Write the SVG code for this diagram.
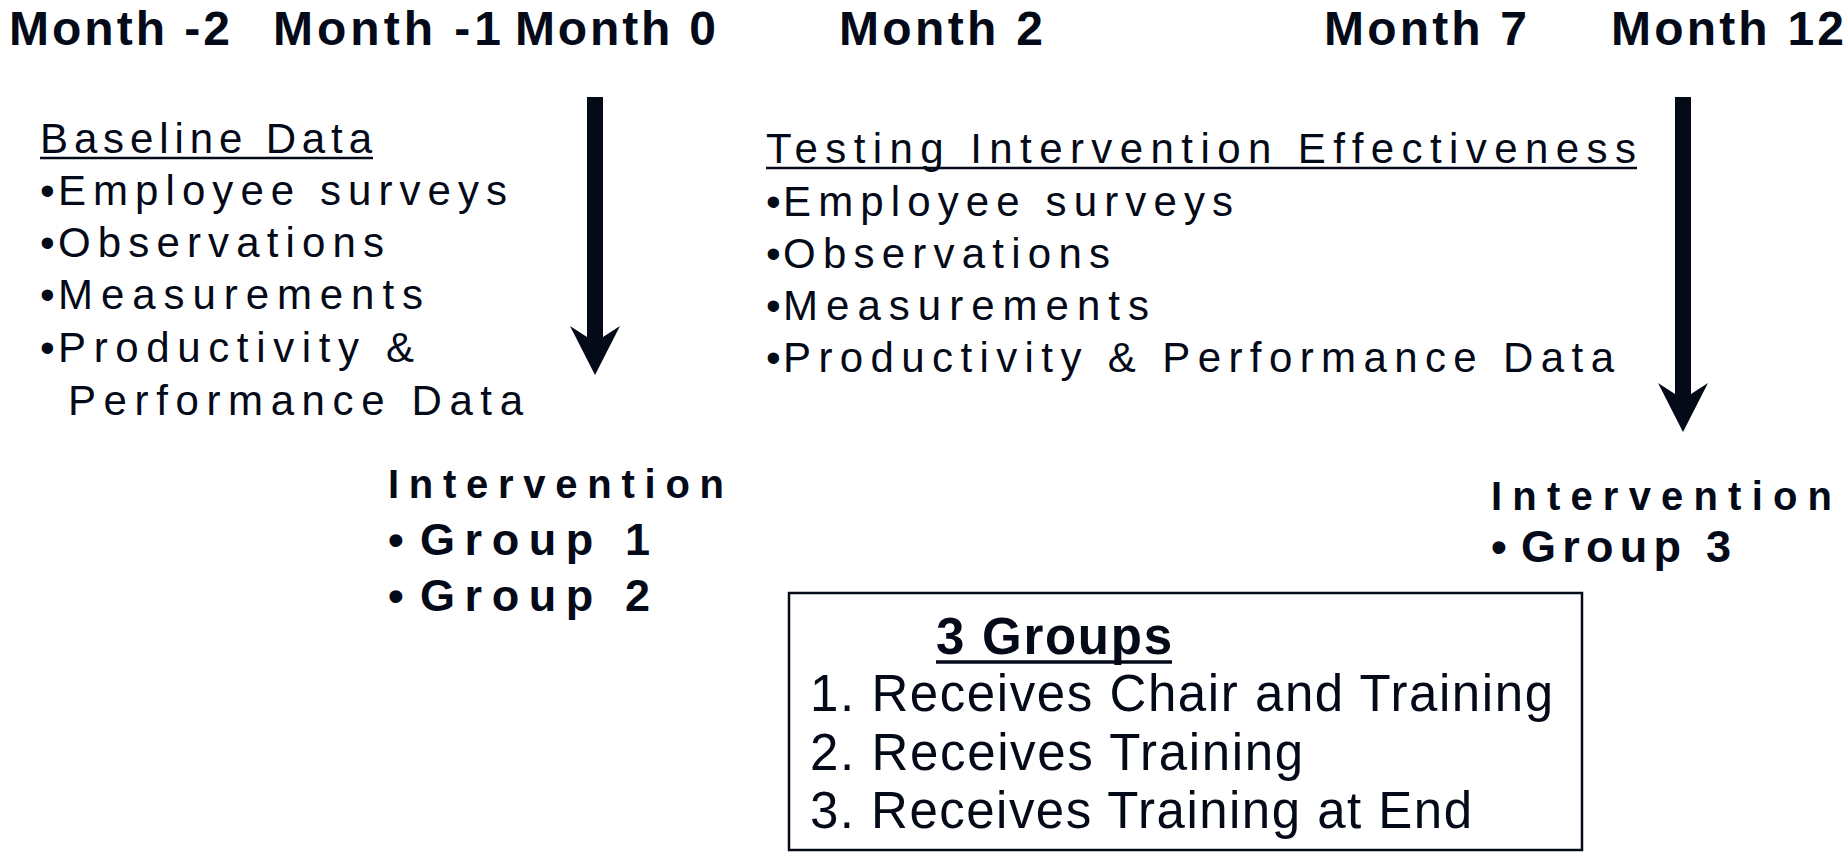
<svg xmlns="http://www.w3.org/2000/svg" width="1847" height="854" viewBox="0 0 1847 854">
<style>
text{fill:#050a18;font-family:"Liberation Sans",Arial,sans-serif}
.hd{font-size:48px;font-weight:bold}
.ls{font-size:42px}
.iv{font-size:40px;font-weight:bold}
.gp{font-size:45px;font-weight:bold}
.bx{font-size:51px}
.ul{stroke:#050a18;stroke-width:2.5}
</style>
<g id="headers">
<text class="hd" x="9" y="45" textLength="221" lengthAdjust="spacing">Month -2</text>
<text class="hd" x="273" y="45" textLength="228" lengthAdjust="spacing">Month -1</text>
<text class="hd" x="515" y="45" textLength="201" lengthAdjust="spacing">Month 0</text>
<text class="hd" x="839" y="45" textLength="204" lengthAdjust="spacing">Month 2</text>
<text class="hd" x="1324" y="45" textLength="203" lengthAdjust="spacing">Month 7</text>
<text class="hd" x="1611" y="45" textLength="233" lengthAdjust="spacing">Month 12</text>
</g>
<g id="baseline">
<text class="ls" x="40" y="153" textLength="332" lengthAdjust="spacing">Baseline Data</text>
<line class="ul" x1="40" y1="158" x2="373" y2="158"/>
<text class="ls" x="40" y="205">•</text>
<text class="ls" x="58" y="205" textLength="449" lengthAdjust="spacing">Employee surveys</text>
<text class="ls" x="40" y="257">•</text>
<text class="ls" x="58" y="257" textLength="326" lengthAdjust="spacing">Observations</text>
<text class="ls" x="40" y="309">•</text>
<text class="ls" x="58" y="309" textLength="365" lengthAdjust="spacing">Measurements</text>
<text class="ls" x="40" y="362">•</text>
<text class="ls" x="58" y="362" textLength="356" lengthAdjust="spacing">Productivity &amp;</text>
<text class="ls" x="68" y="415" textLength="455" lengthAdjust="spacing">Performance Data</text>
</g>
<g id="testing">
<text class="ls" x="766" y="163" textLength="870" lengthAdjust="spacing">Testing Intervention Effectiveness</text>
<line class="ul" x1="766" y1="168" x2="1637" y2="168"/>
<text class="ls" x="766" y="216">•</text>
<text class="ls" x="783" y="216" textLength="450" lengthAdjust="spacing">Employee surveys</text>
<text class="ls" x="766" y="268">•</text>
<text class="ls" x="783" y="268" textLength="327" lengthAdjust="spacing">Observations</text>
<text class="ls" x="766" y="320">•</text>
<text class="ls" x="783" y="320" textLength="366" lengthAdjust="spacing">Measurements</text>
<text class="ls" x="766" y="372">•</text>
<text class="ls" x="783" y="372" textLength="831" lengthAdjust="spacing">Productivity &amp; Performance Data</text>
</g>
<g id="intervention1">
<text class="iv" x="388" y="498" textLength="336" lengthAdjust="spacing">Intervention</text>
<text class="gp" x="388" y="555">•</text>
<text class="gp" x="420" y="555" textLength="230" lengthAdjust="spacing">Group 1</text>
<text class="gp" x="388" y="611">•</text>
<text class="gp" x="420" y="611" textLength="230" lengthAdjust="spacing">Group 2</text>
</g>
<g id="intervention3">
<text class="iv" x="1491" y="510" textLength="341" lengthAdjust="spacing">Intervention</text>
<text class="gp" x="1491" y="562">•</text>
<text class="gp" x="1521" y="562" textLength="210" lengthAdjust="spacing">Group 3</text>
</g>
<g id="groups">
<rect x="789" y="593" width="793" height="257" fill="none" stroke="#050a18" stroke-width="2.5"/>
<text class="bx" x="936" y="654" font-weight="bold" textLength="236" lengthAdjust="spacing">3 Groups</text>
<line x1="936" y1="662" x2="1172" y2="662" stroke="#050a18" stroke-width="3.5"/>
<text class="bx" x="810" y="711" textLength="743" lengthAdjust="spacing">1. Receives Chair and Training</text>
<text class="bx" x="810" y="770" textLength="493" lengthAdjust="spacing">2. Receives Training</text>
<text class="bx" x="810" y="828" textLength="662" lengthAdjust="spacing">3. Receives Training at End</text>
</g>
<g id="connectors">
<path d="M587 97 H603 V337 L620 326 L595 375 L570 326 L587 337 Z" fill="#050a18"/>
<path d="M1675 97 H1691 V394 L1708 383 L1683 432 L1658 383 L1675 394 Z" fill="#050a18"/>
</g>
</svg>
